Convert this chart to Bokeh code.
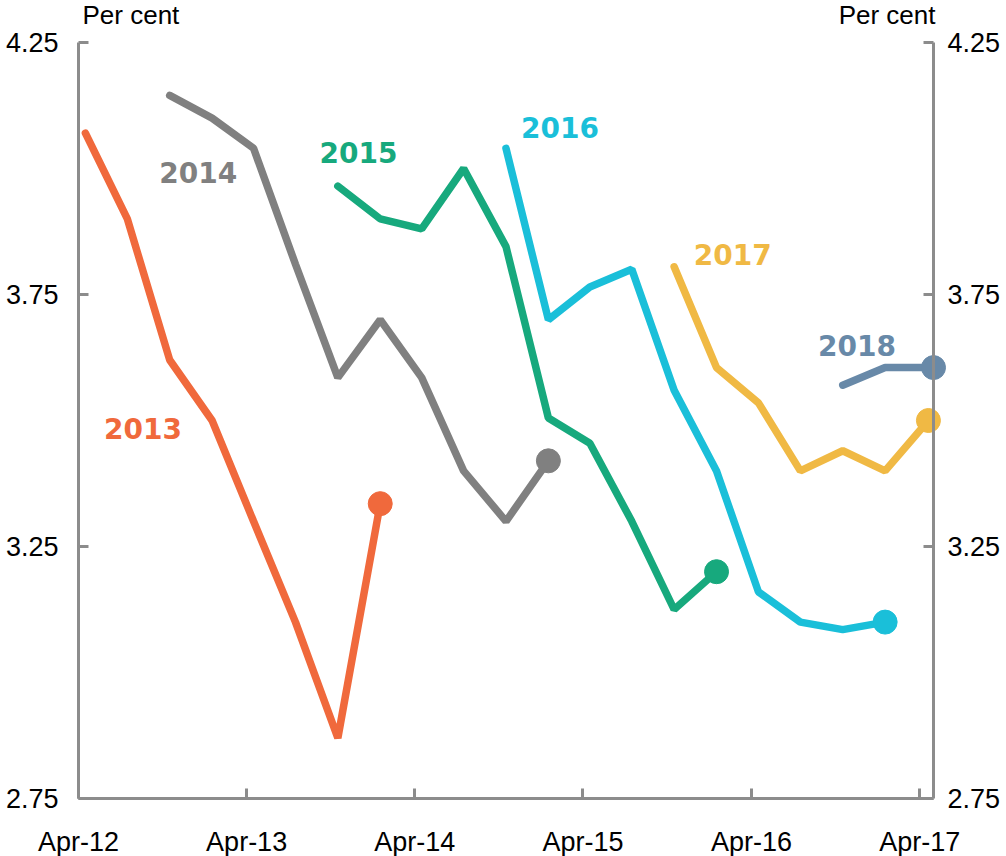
import pandas as pd
from bokeh.core.properties import value
from bokeh.embed import file_html
from bokeh.models import (ColumnDataSource, DatetimeTickFormatter, FixedTicker,
                          Label, LinearAxis, NumeralTickFormatter, Range1d)
from bokeh.plotting import figure
from bokeh.resources import INLINE

# quarterly observations (mid-month), one series per year of the outlook
d2013 = ["2012-04-16", "2012-07-16", "2012-10-16", "2013-01-16", "2013-04-16",
         "2013-07-16", "2013-10-16", "2014-01-16"]
v2013 = [4.07, 3.90, 3.62, 3.50, 3.30, 3.10, 2.87, 3.335]

d2014 = ["2012-10-16", "2013-01-16", "2013-04-16", "2013-07-16", "2013-10-16",
         "2014-01-16", "2014-04-16", "2014-07-16", "2014-10-16", "2015-01-16"]
v2014 = [4.145, 4.10, 4.04, 3.81, 3.585, 3.70, 3.585, 3.40, 3.30, 3.42]

d2015 = ["2013-10-16", "2014-01-16", "2014-04-16", "2014-07-16", "2014-10-16",
         "2015-01-16", "2015-04-16", "2015-07-16", "2015-10-16", "2016-01-16"]
v2015 = [3.965, 3.90, 3.88, 4.00, 3.845, 3.505, 3.455, 3.30, 3.125, 3.20]

d2016 = ["2014-10-16", "2015-01-16", "2015-04-16", "2015-07-16", "2015-10-16",
         "2016-01-16", "2016-04-16", "2016-07-16", "2016-10-16", "2017-01-16"]
v2016 = [4.04, 3.70, 3.765, 3.80, 3.56, 3.40, 3.16, 3.10, 3.085, 3.10]

d2017 = ["2015-10-16", "2016-01-16", "2016-04-16", "2016-07-16", "2016-10-16",
         "2017-01-16", "2017-04-20"]
v2017 = [3.805, 3.605, 3.535, 3.40, 3.44, 3.40, 3.50]

d2018 = ["2016-10-16", "2017-01-16", "2017-05-01"]
v2018 = [3.57, 3.605, 3.605]

years = ["2013", "2014", "2015", "2016", "2017", "2018"]
colors = ["#f0693c", "#808080", "#17a97d", "#1abfd9", "#f0b944", "#6889a8"]
# where each year's name sits (centre)
label_dates = ["2012-08-19", "2012-12-17", "2013-11-30", "2015-02-10",
               "2016-02-20", "2016-11-16"]
label_vals = [3.485, 3.993, 4.031, 4.081, 3.829, 3.648]

tick_dates = ["2012-04-01", "2013-04-01", "2014-04-01", "2015-04-01",
              "2016-04-01", "2017-04-01"]
y_ticks = [2.75, 3.25, 3.75, 4.25]

AXIS = "#8c8c8c"
TICK_FONT = "Liberation Sans"
PX = 1.5 / 756  # one pixel in y units
AXIS_W = 855    # pixels between the two value axes
LEFT_PAD = 78   # room for the left tick labels
RIGHT_PAD = 71  # room for the end dots and the right tick labels


def ms(d):
    return pd.Timestamp(d).value // 10**6


x_start, x_end = ms("2012-04-01"), ms("2017-05-01")
per_px = (x_end - x_start) / AXIS_W
# the frame fills the whole canvas; all axes are pinned inside it so that
# neither the captions, the end dots nor the tick labels get clipped
x_near = x_start - LEFT_PAD * per_px
x_far = x_end + RIGHT_PAD * per_px
y_top = 4.25 + 42 * PX
y_bottom = 2.75 - 58 * PX

p = figure(
    frame_width=LEFT_PAD + AXIS_W + RIGHT_PAD, frame_height=856,
    x_axis_type="datetime",
    x_range=Range1d(x_near, x_far), y_range=Range1d(y_bottom, y_top),
    output_backend="svg", toolbar_location=None,
    min_border=0, outline_line_color=None,
    background_fill_color="white", border_fill_color="white",
)
p.grid.visible = False

series = [(d2013, v2013), (d2014, v2014), (d2015, v2015),
          (d2016, v2016), (d2017, v2017), (d2018, v2018)]
for (dates, vals), color in zip(series, colors):
    xs = pd.to_datetime(dates)
    p.line(xs, vals, color=color, line_width=7.5, line_cap="round")
    p.scatter([xs[-1]], [vals[-1]], size=24, color=color)

labels = ColumnDataSource(dict(x=pd.to_datetime(label_dates), y=label_vals,
                               text=years, color=colors))
p.text("x", "y", text="text", source=labels, text_color="color",
       text_font=value("DejaVu Sans"), text_font_style="bold",
       text_font_size="28px", text_align="center",
       text_baseline="alphabetic")

right = LinearAxis(fixed_location=x_end)
p.add_layout(right, "right")


def style_axis(ax, standoff):
    ax.axis_line_color = AXIS
    ax.axis_line_width = 3
    ax.major_tick_line_color = AXIS
    ax.major_tick_line_width = 3
    ax.major_tick_in = 10
    ax.major_tick_out = 0
    ax.minor_tick_line_color = None
    ax.major_label_text_font = TICK_FONT
    ax.major_label_text_font_size = "27px"
    ax.major_label_text_color = "black"
    ax.major_label_standoff = standoff


left = p.yaxis[0]
left.fixed_location = x_start
for ax, standoff in ((left, 20), (right, 14)):
    ax.ticker = FixedTicker(ticks=y_ticks)
    ax.formatter = NumeralTickFormatter(format="0.00")
    ax.bounds = (2.75, 4.25)
    style_axis(ax, standoff)

xa = p.xaxis[0]
xa.fixed_location = 2.75
xa.ticker = FixedTicker(ticks=[ms(d) for d in tick_dates])
xa.formatter = DatetimeTickFormatter(years="%b-%y", months="%b-%y",
                                     days="%b-%y")
xa.bounds = (x_start, x_end)
style_axis(xa, 28)

for x, align, dx in ((x_start, "left", 4), (x_end, "right", 2)):
    p.add_layout(Label(x=x, y=4.25 + 28 * PX, x_offset=dx,
                       text="Per cent", text_align=align,
                       text_baseline="alphabetic", text_font=TICK_FONT,
                       text_font_size="26px", text_color="black"))

open("out.html", "w").write(file_html(p, INLINE))
